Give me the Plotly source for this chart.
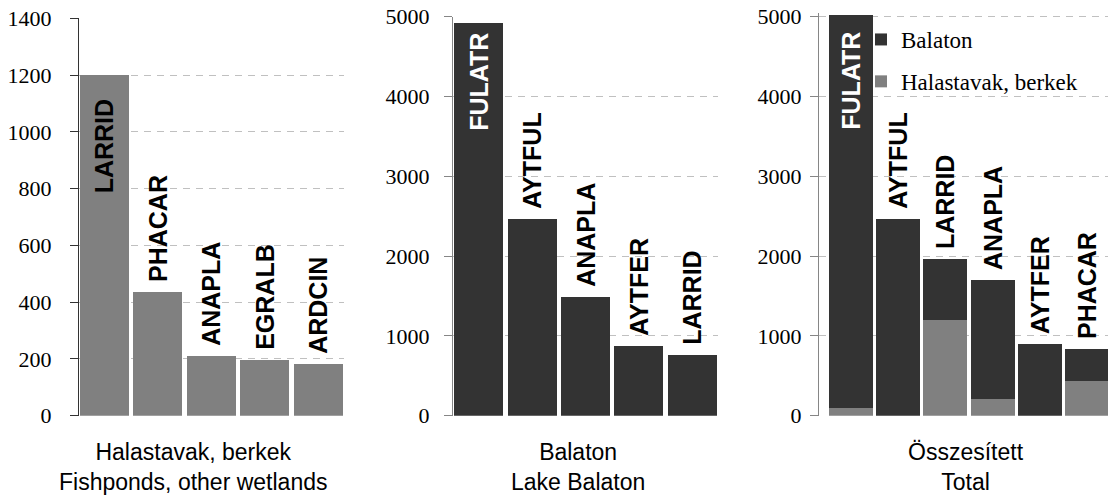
import plotly.graph_objects as go

# ---------------- data ----------------
halastavak_species = ["LARRID", "PHACAR", "ANAPLA", "EGRALB", "ARDCIN"]
halastavak_values = [1200, 436, 211, 197, 183]

balaton_species = ["FULATR", "AYTFUL", "ANAPLA", "AYTFER", "LARRID"]
balaton_values = [4925, 2470, 1490, 877, 764]

total_species = ["FULATR", "AYTFUL", "LARRID", "ANAPLA", "AYTFER", "PHACAR"]
total_balaton = [4925, 2470, 764, 1490, 900, 400]
total_halastavak = [100, 0, 1200, 211, 0, 436]

panel_titles = [
    "Halastavak, berkek<br>Fishponds, other wetlands",
    "Balaton<br>Lake Balaton",
    "Összesített<br>Total",
]
legend_names = ["Balaton", "Halastavak, berkek"]

# ---------------- style ----------------
W, H = 1108, 495
DARK = "#333333"
GRAY = "#808080"
SANS = "Liberation Sans"
SERIF = "Liberation Serif"
NB = "\u00a0"


def label_text(names, inside_pad):
    out = []
    for i, n in enumerate(names):
        if i == 0:
            out.append(n + NB * inside_pad)
        else:
            out.append(NB + n)
    return out


def positions(names):
    return ["inside" if i == 0 else "outside" for i in range(len(names))]


bar_font_in_black = dict(family=SANS, size=25, color="black", weight="bold")
bar_font_in_white = dict(family=SANS, size=25, color="white", weight="bold")
bar_font_out = dict(family=SANS, size=25, color="black", weight="bold")

fig = go.Figure()

# left panel
fig.add_trace(go.Bar(
    x=halastavak_species, y=halastavak_values,
    marker=dict(color=GRAY, line=dict(width=0)), width=0.915,
    text=label_text(halastavak_species, 3), textposition=positions(halastavak_species),
    insidetextanchor="end", textangle=-90, constraintext="none",
    insidetextfont=bar_font_in_black, outsidetextfont=bar_font_out,
    xaxis="x", yaxis="y", showlegend=False, cliponaxis=False,
))

# middle panel
fig.add_trace(go.Bar(
    x=balaton_species, y=balaton_values,
    marker=dict(color=DARK, line=dict(width=0)), width=0.915,
    text=label_text(balaton_species, 1), textposition=positions(balaton_species),
    insidetextanchor="end", textangle=-90, constraintext="none",
    insidetextfont=bar_font_in_white, outsidetextfont=bar_font_out,
    xaxis="x2", yaxis="y2", showlegend=False, cliponaxis=False,
))

# right panel (stacked)
fig.add_trace(go.Bar(
    x=total_species, y=total_halastavak, name=legend_names[1],
    marker=dict(color=GRAY, line=dict(width=0)), width=0.93,
    xaxis="x3", yaxis="y3", legendgroup="h", legendrank=2, cliponaxis=False,
))
fig.add_trace(go.Bar(
    x=total_species, y=total_balaton, name=legend_names[0],
    marker=dict(color=DARK, line=dict(width=0)), width=0.93,
    text=label_text(total_species, 2), textposition=positions(total_species),
    insidetextanchor="end", textangle=-90, constraintext="none",
    insidetextfont=bar_font_in_white, outsidetextfont=bar_font_out,
    xaxis="x3", yaxis="y3", legendgroup="b", legendrank=1, cliponaxis=False,
))


def px_x(a, b):
    return [a / W, b / W]


def px_y(top, bottom):
    return [(H - bottom) / H, (H - top) / H]


common_x = dict(showline=False, showgrid=False, zeroline=False, automargin=False,
                showticklabels=False, ticks="", fixedrange=True)


def yaxis(domain, rng, dtick, xanchor, linecolor, standoff):
    return dict(
        domain=domain, range=rng, dtick=dtick, tick0=0, anchor=xanchor,
        showline=True, linecolor=linecolor, linewidth=1, automargin=False,
        ticks="outside", ticklen=8, tickcolor=linecolor, tickwidth=1,
        showgrid=True, gridcolor="#c0c0c0", griddash="7px,6px", gridwidth=1,
        zeroline=False, ticklabelstandoff=standoff,
        tickfont=dict(family=SERIF, size=22, color="black"),
    )


fig.update_layout(
    width=W, height=H,
    margin=dict(l=0, r=0, t=0, b=0, pad=0, autoexpand=False),
    paper_bgcolor="white", plot_bgcolor="white",
    font=dict(family=SERIF, size=22, color="black"),
    barmode="stack",
    xaxis=dict(domain=px_x(79, 344), range=[-0.47, 4.48], anchor="y", **common_x),
    xaxis2=dict(domain=px_x(453, 718), range=[-0.48, 4.48], anchor="y2", **common_x),
    xaxis3=dict(domain=px_x(819, 1108), range=[-0.678, 5.445], anchor="y3", **common_x),
    yaxis=yaxis(px_y(18.3, 415.7), [0, 1400], 200, "x", "#333333", 14),
    yaxis2=yaxis(px_y(16.7, 415.7), [0, 5000], 1000, "x2", "#868686", 10),
    yaxis3=yaxis(px_y(12.7, 415.7), [0, 5050], 1000, "x3", "#868686", 4),
    legend=dict(
        x=861 / W, y=(H - 18) / H, xanchor="left", yanchor="top",
        bgcolor="rgba(0,0,0,0)", borderwidth=0,
        font=dict(family=SERIF, size=23, color="black"),
        traceorder="grouped", tracegroupgap=9,
    ),
    showlegend=True,
)

for cx, t in zip([193.5, 577.5, 965.5], panel_titles):
    fig.add_annotation(
        text=t, x=cx / W, y=(H - 466.5) / H, xref="paper", yref="paper",
        xanchor="center", yanchor="middle", showarrow=False, align="center",
        font=dict(family=SANS, size=23, color="black"),
    )

fig.write_html(
    "out.html",
    config=dict(displayModeBar=False),
    post_script="document.body.style.margin='0';document.body.style.overflow='hidden';",
)
